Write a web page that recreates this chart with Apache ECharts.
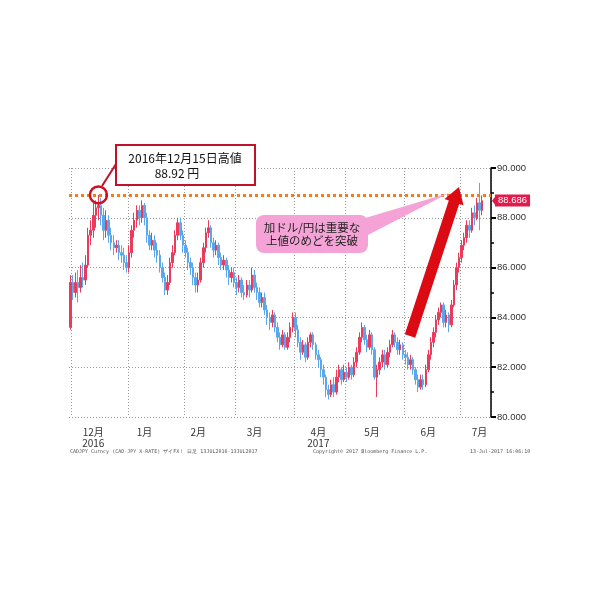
<!DOCTYPE html>
<html><head><meta charset="utf-8">
<script src="https://cdn.jsdelivr.net/npm/echarts@6/dist/echarts.min.js"></script>
<style>html,body{margin:0;padding:0;background:#fff}#c{width:600px;height:600px}</style>
</head><body><div id="c"></div>
<script>
// OHLC per trading day: [open, close, low, high]
const nov = [[83.6,85.4,83.5,85.7]];
const dec = [
[85.4,85.0,84.7,85.7],[85.0,85.4,84.8,85.8],[85.4,85.2,84.6,85.9],[85.2,85.6,85.0,86.1],
[85.6,85.5,85.2,86.2],[85.5,86.1,85.3,86.5],[86.1,87.3,86.0,87.6],[87.3,87.5,86.9,87.9],
[87.5,88.1,87.2,88.6],[88.1,88.4,87.6,88.7],[88.4,88.5,87.9,88.92],[88.5,88.1,87.7,88.8],
[88.1,87.5,87.1,88.4],[87.5,87.9,87.2,88.3],[87.9,87.3,87.0,88.1],[87.3,87.0,86.7,87.6],
[87.0,86.8,86.5,87.3],[86.8,86.9,86.6,87.1],[86.9,86.6,86.3,87.1],[86.6,86.5,86.2,86.9],
[86.5,86.2,85.9,86.8],[86.2,86.0,85.8,86.5]];
const jan = [
[86.0,86.6,85.8,86.9],[86.6,87.5,86.4,87.7],[87.5,87.9,87.2,88.2],[87.9,88.3,87.6,88.5],
[88.3,88.0,87.7,88.5],[88.0,88.5,87.8,88.7],[88.5,88.0,87.7,88.6],[88.0,87.3,87.0,88.2],
[87.3,86.9,86.7,87.5],[86.9,87.1,86.7,87.4],[87.1,86.7,86.4,87.3],[86.7,86.5,86.2,87.0],
[86.5,86.0,85.8,86.7],[86.0,85.6,85.4,86.2],[85.6,85.1,84.9,85.8],[85.1,85.4,84.9,85.7],
[85.4,86.2,85.3,86.4],[86.2,86.6,86.0,86.9],[86.6,87.3,86.5,87.5],[87.3,87.8,87.1,88.0],
[87.8,87.3,87.1,88.0],[87.3,86.9,86.6,87.5]];
const feb = [
[86.9,86.6,86.4,87.1],[86.6,86.2,85.9,86.8],[86.2,86.0,85.7,86.4],[86.0,85.6,85.3,86.2],
[85.6,85.3,85.0,85.8],[85.3,85.5,85.0,85.8],[85.5,86.2,85.4,86.4],[86.2,86.8,86.0,87.0],
[86.8,87.4,86.6,87.6],[87.4,87.6,87.2,87.9],[87.6,87.0,86.8,87.7],[87.0,86.7,86.4,87.2],
[86.7,86.9,86.5,87.1],[86.9,86.4,86.1,87.0],[86.4,86.1,85.9,86.6],[86.1,86.3,85.9,86.5],
[86.3,85.9,85.6,86.4],[85.9,85.6,85.3,86.1],[85.6,85.8,85.4,86.0],[85.8,85.4,85.2,86.0]];
const mar = [
[85.4,85.2,84.9,85.6],[85.2,85.5,85.0,85.7],[85.5,85.0,84.8,85.6],[85.0,84.9,84.7,85.3],
[84.9,85.3,84.8,85.5],[85.3,85.1,84.8,85.5],[85.1,85.7,85.0,86.0],[85.7,85.2,85.0,85.9],
[85.2,85.0,84.7,85.4],[85.0,84.6,84.4,85.2],[84.6,84.8,84.4,85.0],[84.8,84.3,84.1,85.0],
[84.3,84.0,83.7,84.5],[84.0,83.8,83.5,84.2],[83.8,84.1,83.6,84.3],[84.1,83.6,83.4,84.2],
[83.6,83.2,83.0,83.8],[83.2,82.9,82.7,83.4],[82.9,83.3,82.8,83.5],[83.3,82.8,82.7,83.4],
[82.8,83.2,82.7,83.4],[83.2,83.6,83.0,83.8],[83.6,84.0,83.4,84.2]];
const apr = [
[84.0,83.5,83.2,84.2],[83.5,83.0,82.8,83.7],[83.0,82.6,82.3,83.2],[82.6,82.9,82.5,83.1],
[82.9,82.4,82.2,83.0],[82.4,83.0,82.3,83.2],[83.0,83.3,82.8,83.4],[83.3,82.9,82.7,83.4],
[82.9,82.5,82.3,83.0],[82.5,82.3,82.0,82.7],[82.3,81.9,81.6,82.4],[81.9,81.6,81.3,82.1],
[81.6,81.1,80.8,81.7],[81.1,80.9,80.7,81.3],[80.9,81.3,80.8,81.5],[81.3,81.0,80.8,81.6],
[81.0,81.6,80.9,81.9],[81.6,81.9,81.4,82.1],[81.9,81.5,81.3,82.0],[81.5,81.8,81.4,82.1]];
const may = [
[81.8,81.6,81.4,82.0],[81.6,82.0,81.5,82.2],[82.0,81.7,81.5,82.1],[81.7,82.2,81.6,82.4],
[82.2,82.6,82.0,82.8],[82.6,83.2,82.5,83.4],[83.2,83.6,83.0,83.8],[83.6,83.1,82.9,83.7],
[83.1,82.8,82.6,83.3],[82.8,83.3,82.7,83.5],[83.3,82.7,82.5,83.4],[82.7,81.6,81.5,82.8],
[81.6,81.9,80.8,82.1],[81.9,82.2,81.7,82.4],[82.2,82.5,82.0,82.7],[82.5,82.1,81.9,82.7],
[82.1,82.6,82.0,82.8],[82.6,82.9,82.4,83.1],[82.9,83.3,82.8,83.5],[83.3,83.0,82.8,83.4],
[83.0,82.7,82.5,83.2],[82.7,82.9,82.5,83.1],[82.9,82.5,82.3,83.0]];
const jun = [
[82.5,82.4,82.1,82.7],[82.4,82.1,81.9,82.6],[82.1,82.3,81.9,82.5],[82.3,81.9,81.7,82.4],
[81.9,81.5,81.3,82.0],[81.5,81.2,81.0,81.7],[81.2,81.5,81.1,81.7],[81.5,81.3,81.1,81.7],
[81.3,81.9,81.2,82.1],[81.9,82.5,81.8,82.7],[82.5,83.0,82.3,83.2],[83.0,83.4,82.8,83.6],
[83.4,83.9,83.2,84.1],[83.9,84.2,83.7,84.4],[84.2,84.5,84.0,84.6],[84.5,83.8,83.6,84.6],
[83.8,84.1,83.6,84.3],[84.1,83.7,83.4,84.2],[83.7,84.5,83.6,84.7],[84.5,85.3,84.4,85.5],
[85.3,86.0,85.1,86.2],[86.0,86.4,85.8,86.6]];
const jul = [
[86.4,86.9,86.2,87.1],[86.9,87.2,86.7,87.4],[87.2,87.7,87.0,87.9],[87.7,87.5,87.2,87.9],
[87.5,88.2,87.4,88.4],[88.2,88.0,87.7,88.5],[88.0,88.6,87.9,88.8],[88.6,88.3,87.5,89.4],
[88.3,88.686,88.1,88.9]];

const firstDay = [2016, 10, 30];   // 2016-11-30
const lastDay  = [2017, 6, 13];    // 2017-07-13
const emptySlots = ['e1','e2','e3'];
const labelDates = ['2016-12-13','2017-01-10','2017-02-08','2017-03-10','2017-04-14','2017-05-15','2017-06-14','2017-07-12'];
const labelTexts = ['12月\n2016','1月','2月','3月','4月\n2017','5月','6月','7月'];
const yTicks = {min: 80, max: 90, step: 2};
const peakHigh = 88.92;
const peakDate = '2016-12-15';
const lastPrice = 88.686;
const calloutTitle = ['2016年12月15日高値', '88.92 円'];
const calloutNote = ['加ドル/円は重要な', '上値のめどを突破'];
const footer = ['CADJPY Curncy (CAD-JPY X-RATE) ザイFX！ 日足 13JUL2016-13JUL2017', 'Copyright© 2017 Bloomberg Finance L.P.', '13-Jul-2017 16:06:10'];

const ohlc = [].concat(nov, dec, jan, feb, mar, apr, may, jun, jul);

function weekdays(a, b) {
  const out = [];
  let t = Date.UTC(a[0], a[1], a[2]);
  const e = Date.UTC(b[0], b[1], b[2]);
  while (t <= e) {
    const d = new Date(t);
    const w = d.getUTCDay();
    if (w !== 0 && w !== 6) out.push(d.toISOString().slice(0, 10));
    t += 86400000;
  }
  return out;
}
const dates = weekdays(firstDay, lastDay);
const categories = dates.concat(emptySlots);
const monthStarts = new Set();
for (let i = 1; i < dates.length; i++) {
  if (dates[i].slice(0, 7) !== dates[i - 1].slice(0, 7)) monthStarts.add(i);
}
const labelMap = {};
labelDates.forEach((d, i) => { labelMap[d] = labelTexts[i]; });

const RED = '#ec3a5d', BLUE = '#5aa7ec';
const chart = echarts.init(document.getElementById('c'), null, {renderer: 'canvas'});
const jp = 'Noto Sans CJK JP';
const option = {
  animation: false,
  backgroundColor: '#fff',
  grid: {left: 69, right: 109, top: 168, bottom: 183},
  xAxis: {
    type: 'category', data: categories, boundaryGap: true,
    axisLine: {show: false}, axisTick: {show: false},
    axisLabel: {
      interval: (i, v) => labelMap[v] !== undefined,
      formatter: v => labelMap[v] || '',
      fontSize: 10, lineHeight: 11, color: '#333', margin: 10, fontFamily: jp
    },
    splitLine: {show: true, interval: i => monthStarts.has(i), lineStyle: {color: '#999', type: [1, 2], width: 1}}
  },
  yAxis: {
    type: 'value', position: 'right', min: yTicks.min, max: yTicks.max, interval: yTicks.step,
    axisLine: {show: true, lineStyle: {color: '#000', width: 1.5}},
    axisTick: {show: true, length: 5, lineStyle: {color: '#000', width: 2}},
    minorTick: {show: true, splitNumber: 2, length: 3, lineStyle: {color: '#000', width: 1.5}},
    axisLabel: {formatter: v => v.toFixed(3), fontSize: 9.5, color: '#333', margin: 6, fontFamily: 'Liberation Sans'},
    splitLine: {show: true, lineStyle: {color: '#999', type: [1, 2], width: 1}}
  },
  series: [{
    type: 'candlestick', data: ohlc, barWidth: 2,
    itemStyle: {color: RED, color0: BLUE, borderColor: RED, borderColor0: BLUE, borderWidth: 1},
    markLine: {
      symbol: 'none', silent: true, animation: false,
      data: [
        {yAxis: peakHigh, lineStyle: {color: '#f47b20', width: 3, type: [3, 3]}, label: {show: false}},
        {yAxis: lastPrice, lineStyle: {color: 'rgba(0,0,0,0)', width: 0},
         label: {show: true, position: 'end', distance: 4, formatter: lastPrice.toFixed(3),
                 backgroundColor: '#e31b4c', color: '#fff', padding: [1, 3, 1, 3], fontSize: 9.5,
                 fontFamily: 'Liberation Sans'}}
      ]
    },
    markPoint: {
      silent: true, animation: false,
      data: [{coord: [peakDate, peakHigh], symbol: 'circle', symbolSize: 17,
              itemStyle: {color: 'rgba(0,0,0,0)', borderColor: '#d0101f', borderWidth: 2.5},
              label: {show: false}}]
    }
  }],
  graphic: [
    {type: 'line', z: 100, shape: {x1: 102, y1: 186, x2: 116, y2: 164}, style: {stroke: '#c0102a', lineWidth: 2}},
    {type: 'rect', z: 100, shape: {x: 116, y: 145, width: 139, height: 40}, style: {fill: '#fff', stroke: '#c0102a', lineWidth: 2}},
    {type: 'text', z: 101, x: 185, y: 158, style: {text: calloutTitle[0], fontSize: 12, fontFamily: jp, fill: '#111', align: 'center', verticalAlign: 'middle'}},
    {type: 'text', z: 101, x: 177, y: 173, style: {text: calloutTitle[1], fontSize: 12, fontFamily: jp, fill: '#111', align: 'center', verticalAlign: 'middle'}},
    {type: 'polygon', z: 100, shape: {points: [[352, 222], [362, 238], [449, 193]]}, style: {fill: '#f5a3d6'}},
    {type: 'rect', z: 100, shape: {x: 256, y: 215, width: 112, height: 38, r: 8}, style: {fill: '#f5a3d6'}},
    {type: 'text', z: 101, x: 312, y: 228, style: {text: calloutNote[0], fontSize: 11.5, fontFamily: jp, fill: '#222', align: 'center', verticalAlign: 'middle'}},
    {type: 'text', z: 101, x: 312, y: 241, style: {text: calloutNote[1], fontSize: 11.5, fontFamily: jp, fill: '#222', align: 'center', verticalAlign: 'middle'}},
    {type: 'polygon', z: 100, shape: {points: [[404.8, 334.3], [448.8, 200.5], [444.5, 199.1], [459, 187], [463.5, 205.3], [459.2, 203.9], [415.2, 337.7]]}, style: {fill: '#dc0a12'}},
    {type: 'polygon', z: 100, shape: {points: [[492, 200.7], [496, 195.5], [496, 206]]}, style: {fill: '#e31b4c'}},
    {type: 'text', z: 101, x: 70, y: 452, style: {text: footer[0], fontSize: 5, fontFamily: 'DejaVu Sans Mono', fill: '#555', align: 'left', verticalAlign: 'middle'}},
    {type: 'text', z: 101, x: 313, y: 452, style: {text: footer[1], fontSize: 5, fontFamily: 'DejaVu Sans Mono', fill: '#555', align: 'left', verticalAlign: 'middle'}},
    {type: 'text', z: 101, x: 470, y: 452, style: {text: footer[2], fontSize: 5, fontFamily: 'DejaVu Sans Mono', fill: '#555', align: 'left', verticalAlign: 'middle'}}
  ]
};
chart.setOption(option);
</script>
</body></html>
